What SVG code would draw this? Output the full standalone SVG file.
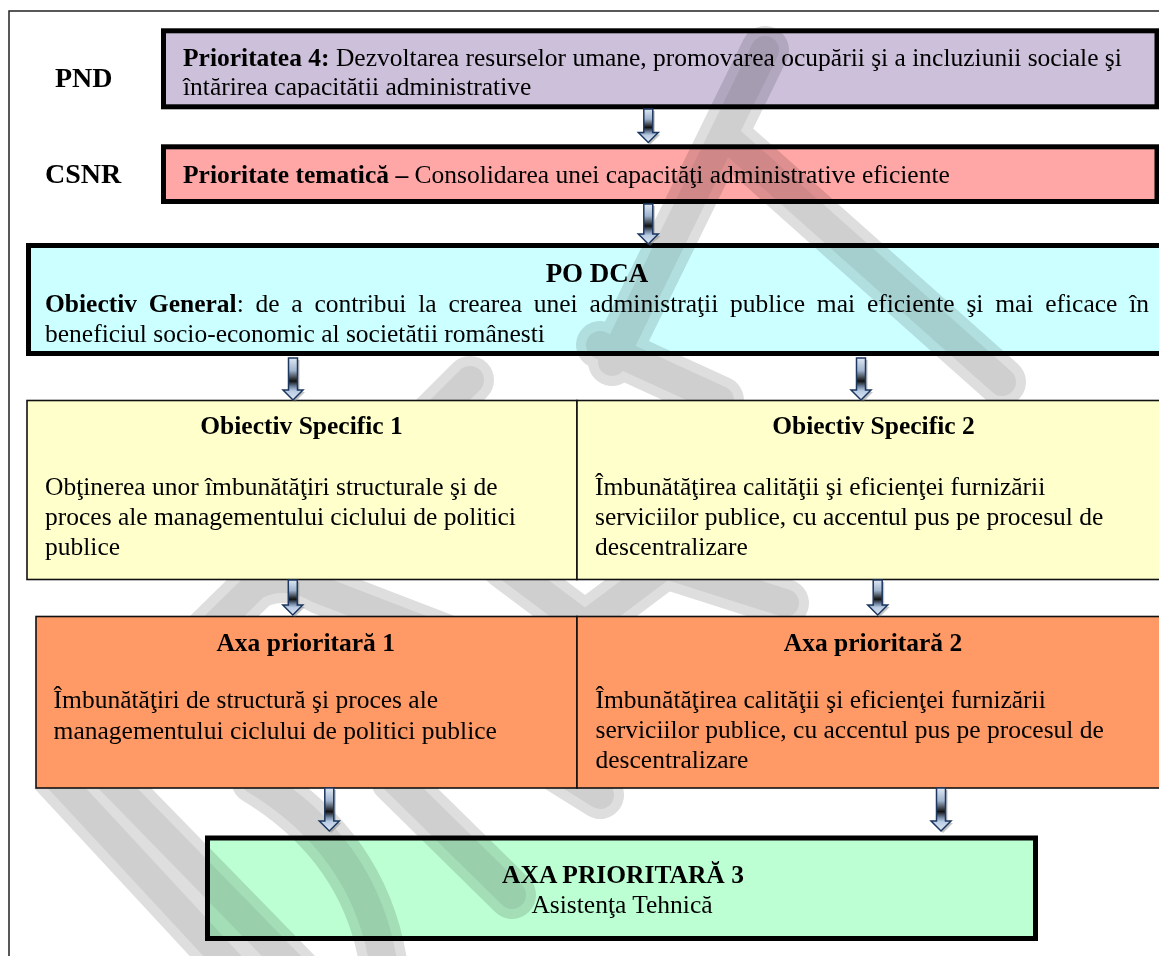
<svg xmlns="http://www.w3.org/2000/svg" width="1159" height="956" viewBox="0 0 1159 956">
<defs>
<style>
text{font-family:"Liberation Serif","Times New Roman",serif;fill:#000;}
.b{font-weight:bold;}
.t{font-size:25.5px;}
.lbl{font-size:28px;font-weight:bold;}
.thick{stroke:#000;stroke-width:5;}
.thin{stroke:#111;stroke-width:1.6;}
.arrow{fill:url(#ag);stroke:#1c3760;stroke-width:1.5;stroke-linejoin:miter;}
.ash{fill:#7f7f7f;opacity:0.45;}
.wm{mix-blend-mode:multiply;}
.halo{fill:none;stroke:#dedede;stroke-width:48;stroke-linecap:round;stroke-linejoin:round;}
.core{fill:none;stroke:#cfcfcf;stroke-width:28;stroke-linecap:round;stroke-linejoin:round;}
</style>
<linearGradient id="ag" x1="0" y1="0" x2="0" y2="1">
<stop offset="0" stop-color="#dfe8f3"/>
<stop offset="0.3" stop-color="#9fb3cc"/>
<stop offset="0.55" stop-color="#111"/>
<stop offset="0.68" stop-color="#6f84a0"/>
<stop offset="0.78" stop-color="#b9cce4"/>
<stop offset="1" stop-color="#dce6f2"/>
</linearGradient>
<clipPath id="pndclip"><rect x="166" y="33" width="990" height="64.5"/></clipPath>
<clipPath id="wmclip">
<rect x="10" y="12" width="1149" height="389"/>
<rect x="27" y="400" width="1132" height="217"/>
<rect x="36" y="616" width="1123" height="173"/>
<rect x="10" y="788" width="1149" height="168"/>
</clipPath>
</defs>

<rect x="9" y="11" width="1200" height="1000" fill="#fff" stroke="#222" stroke-width="1.5"/>

<g id="label-pnd"><text class="lbl" x="55" y="87">PND</text></g>
<g id="label-csnr"><text class="lbl" x="45" y="183">CSNR</text></g>

<g id="pnd">
<rect class="thick" x="163.5" y="30.8" width="993.5" height="76" fill="#ccc0da"/>
<g clip-path="url(#pndclip)">
<text class="t" x="183" y="65.5"><tspan class="b">Prioritatea 4:</tspan> Dezvoltarea resurselor umane, promovarea ocupării şi a incluziunii sociale şi</text>
<text class="t" x="183" y="94.5">întărirea capacitătii administrative</text>
</g>
</g>

<g id="csnr">
<rect class="thick" x="163.5" y="146.8" width="993.5" height="54.7" fill="#ffa6a6"/>
<text class="t" x="183" y="182.7"><tspan class="b">Prioritate tematică –</tspan> Consolidarea unei capacităţi administrative eficiente</text>
</g>

<g id="podca">
<rect class="thick" x="28.5" y="245.5" width="1160" height="108" fill="#ccffff"/>
<text class="b" x="597" y="281.7" font-size="27" text-anchor="middle">PO DCA</text>
<text class="t" x="45" y="312.3" word-spacing="5.4" textLength="1104" lengthAdjust="spacing"><tspan class="b">Obiectiv General</tspan>: de a contribui la crearea unei administraţii publice mai eficiente şi mai eficace în</text>
<text class="t" x="45" y="341.7">beneficiul socio-economic al societătii românesti</text>
</g>

<g id="axa3">
<rect class="thick" x="207.5" y="838" width="828" height="100.5" fill="#bcffd3"/>
<text class="t b" x="623" y="882.7" text-anchor="middle">AXA PRIORITARĂ 3</text>
<text class="t" x="622" y="912.7" text-anchor="middle">Asistenţa Tehnică</text>
</g>

<g id="watermark" class="wm" clip-path="url(#wmclip)">
<g class="halo">
<path d="M765,50 L612,362"/>
<path d="M730,140 L1002,382"/>
<path d="M600,345 L720,400"/>
<path d="M470,380 L430,420"/>
<path d="M200,640 L255,586 Q285,570 320,590 L450,640"/>
<path d="M505,565 L585,625 L665,565"/>
<path d="M650,560 L785,603"/>
<path d="M50,770 L240,975"/>
<path d="M100,770 L300,975"/>
<path d="M255,780 Q370,850 385,975"/>
<path d="M395,780 L512,895"/>
<path d="M560,770 L600,795"/>
</g>
<g class="core">
<path d="M765,50 L612,362"/>
<path d="M730,140 L1002,382"/>
<path d="M600,345 L720,400"/>
<path d="M470,380 L430,420"/>
<path d="M200,640 L255,586 Q285,570 320,590 L450,640"/>
<path d="M505,565 L585,625 L665,565"/>
<path d="M650,560 L785,603"/>
<path d="M50,770 L240,975"/>
<path d="M100,770 L300,975"/>
<path d="M255,780 Q370,850 385,975"/>
<path d="M395,780 L512,895"/>
<path d="M560,770 L600,795"/>
</g>
</g>

<g id="os1">
<rect class="thin" x="27" y="400.5" width="550" height="179" fill="#ffffcc"/>
<text class="t b" x="301.5" y="434.3" text-anchor="middle">Obiectiv Specific 1</text>
<text class="t" x="45" y="495">Obţinerea unor îmbunătăţiri structurale şi de</text>
<text class="t" x="45" y="525">proces ale managementului ciclului de politici</text>
<text class="t" x="45" y="555">publice</text>
</g>

<g id="os2">
<rect class="thin" x="577" y="400.5" width="620" height="179" fill="#ffffcc"/>
<text class="t b" x="873.4" y="434.3" text-anchor="middle">Obiectiv Specific 2</text>
<text class="t" x="595" y="495">Îmbunătăţirea calităţii şi eficienţei furnizării</text>
<text class="t" x="595" y="525">serviciilor publice, cu accentul pus pe procesul de</text>
<text class="t" x="595" y="555">descentralizare</text>
</g>

<g id="axa1">
<rect class="thin" x="36" y="616.5" width="541" height="171.5" fill="#ff9966"/>
<text class="t b" x="305.7" y="651" text-anchor="middle">Axa prioritară 1</text>
<text class="t" x="53.6" y="707.7">Îmbunătăţiri de structură şi proces ale</text>
<text class="t" x="53.6" y="738.5">managementului ciclului de politici publice</text>
</g>

<g id="axa2">
<rect class="thin" x="577" y="616.5" width="620" height="171.5" fill="#ff9966"/>
<text class="t b" x="873" y="651" text-anchor="middle">Axa prioritară 2</text>
<text class="t" x="595.5" y="707.7">Îmbunătăţirea calităţii şi eficienţei furnizării</text>
<text class="t" x="595.5" y="738">serviciilor publice, cu accentul pus pe procesul de</text>
<text class="t" x="595.5" y="768">descentralizare</text>
</g>

<g id="connectors">
<path class="ash" d="M645.8,111 H654.8 V134.5 H660.3 L650.3,144.5 L640.3,134.5 H645.8 Z"/>
<path class="arrow" d="M643.8,109 H652.8 V132.5 H658.3 L648.3,142.5 L638.3,132.5 H643.8 Z"/>
<path class="ash" d="M645.8,206 H654.8 V236 H660.3 L650.3,246 L640.3,236 H645.8 Z"/>
<path class="arrow" d="M643.8,204 H652.8 V234 H658.3 L648.3,244 L638.3,234 H643.8 Z"/>
<path class="ash" d="M290.5,360 H299.5 V392 H305 L295,402 L285,392 H290.5 Z"/>
<path class="arrow" d="M288.5,358 H297.5 V390 H303 L293,400 L283,390 H288.5 Z"/>
<path class="ash" d="M858.5,360 H867.5 V392 H873 L863,402 L853,392 H858.5 Z"/>
<path class="arrow" d="M856.5,358 H865.5 V390 H871 L861,400 L851,390 H856.5 Z"/>
<path class="ash" d="M290.3,582 H299.3 V607 H304.8 L294.8,617 L284.8,607 H290.3 Z"/>
<path class="arrow" d="M288.3,580 H297.3 V605 H302.8 L292.8,615 L282.8,605 H288.3 Z"/>
<path class="ash" d="M875.2,582 H884.2 V607 H889.7 L879.7,617 L869.7,607 H875.2 Z"/>
<path class="arrow" d="M873.2,580 H882.2 V605 H887.7 L877.7,615 L867.7,605 H873.2 Z"/>
<path class="ash" d="M326.8,790 H335.8 V823 H341.3 L331.3,833 L321.3,823 H326.8 Z"/>
<path class="arrow" d="M324.8,788 H333.8 V821 H339.3 L329.3,831 L319.3,821 H324.8 Z"/>
<path class="ash" d="M938.5,790 H947.5 V823 H953 L943,833 L933,823 H938.5 Z"/>
<path class="arrow" d="M936.5,788 H945.5 V821 H951 L941,831 L931,821 H936.5 Z"/>
</g>
</svg>
